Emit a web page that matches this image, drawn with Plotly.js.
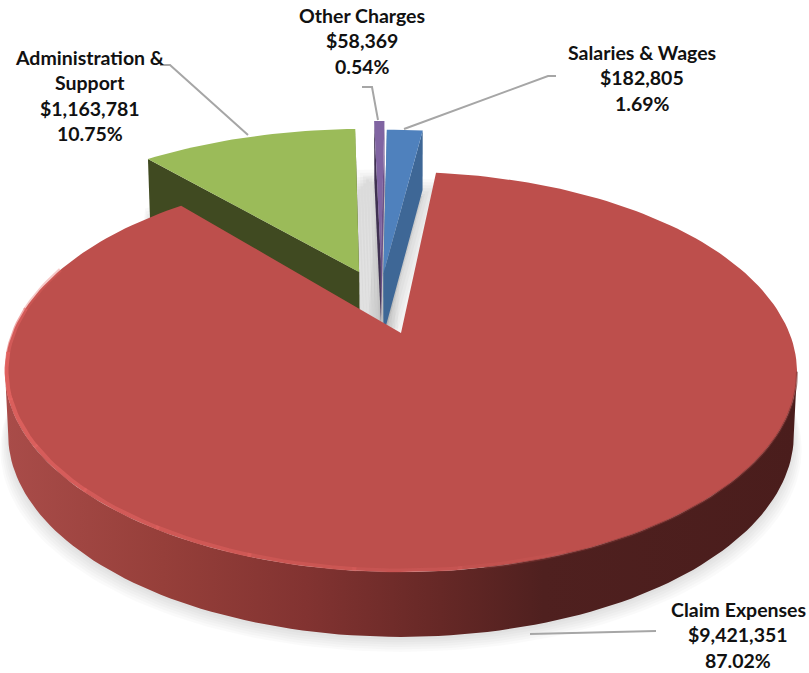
<!DOCTYPE html>
<html>
<head>
<meta charset="utf-8">
<script src="https://cdn.plot.ly/plotly-3.0.1.min.js"></script>
<style>html,body{margin:0;padding:0;background:#fff}#chart{width:809px;height:673px}</style>
</head>
<body>
<div id="chart"></div>
<script>
// ---- data ----
const categories = ['Salaries & Wages', 'Claim Expenses', 'Administration & Support', 'Other Charges'];
const amounts = [182805, 9421351, 1163781, 58369];
const amountLabels = ['$182,805', '$9,421,351', '$1,163,781', '$58,369'];
const percentLabels = ['1.69%', '87.02%', '10.75%', '0.54%'];
const labelLines = [['Salaries & Wages'], ['Claim Expenses'], ['Administration &', 'Support'], ['Other Charges']];

// ---- styling ----
const topColors = ['#4f81bd', '#bd4f4c', '#9bbb59', '#8064a2'];
const wallColors = ['#3e6796', null, '#404a21', '#3f3151'];
const wallColors2 = ['#3e6796', null, '#404a21', '#6b5088'];
const labelCenters = [642, 738, 90, 362];
const labelTops = [52, 609, 57, 15];
const lineStep = 25.6;
const leaders = [
  [[404, 129], [548, 76], [556, 76]],
  [[530, 634], [656, 631]],
  [[248, 135], [170, 65], [160, 65]],
  [[378, 120], [372, 87], [362, 87]]
];

// ---- projection of the tilted disc ----
const X0 = 401, Y0 = 333, A = 388.4, B = 192.4, K = 0.195;
const START = 0.1;
const explode = [[-0.048, -0.33], [0, 0], [-0.115, -0.338], [-0.056, -0.403]];
const widen = [1.1, 1, 1.04, 1];
const rad = d => d * Math.PI / 180;
const wall = s => 50 + 12 * s;
function proj(u, v, low) {
  const s = 1 / (1 - K * v);
  let x = X0 + A * u * s, y = Y0 + B * v * s;
  if (low) { x = X0 + (x - X0) * 0.992; y += wall(s); }
  return [x, y];
}
function rimPt(i, deg, low) {
  const e = explode[i], t = rad(deg);
  return proj(e[0] + widen[i] * Math.sin(t), e[1] - Math.cos(t), low);
}
function arc(i, a0, a1, low) {
  const n = Math.max(2, Math.ceil(Math.abs(a1 - a0) / 1.5)), out = [];
  for (let j = 0; j <= n; j++) out.push(rimPt(i, a0 + (a1 - a0) * j / n, low));
  return out;
}
const total = amounts.reduce((a, b) => a + b, 0);
const spans = [];
let cur = START;
amounts.forEach(v => { const d = v / total * 360; spans.push([cur, cur + d]); cur += d; });

const traces = [];
function poly(pts, opt) {
  const x = pts.map(p => p[0]), y = pts.map(p => p[1]);
  x.push(x[0]); y.push(y[0]);
  traces.push(Object.assign({
    type: 'scatter', mode: 'lines', x, y, fill: 'toself',
    line: { width: 0 }, hoverinfo: 'skip', showlegend: false
  }, opt));
}
function stroke(pts, color, width) {
  traces.push({
    type: 'scatter', mode: 'lines', x: pts.map(p => p[0]), y: pts.map(p => p[1]),
    line: { color, width }, hoverinfo: 'skip', showlegend: false
  });
}
function facePts(i, low) {
  const e = explode[i];
  return [proj(e[0], e[1], low)].concat(arc(i, spans[i][0], spans[i][1], low));
}

// soft floor shadow of the rear slices (fills the gaps between them)
[0, 1, 2, 3, 4, 5].forEach(l => {
  [2, 3, 0].forEach(i => {
    const pts = facePts(i, true).map(p => [p[0], p[1] + 6]);
    poly(pts, { fillcolor: 'rgba(0,0,0,0.012)', line: { width: 4 + l * 6, color: 'rgba(0,0,0,0.022)' } });
  });
});
// soft floor shadow of the big slice
[0, 1, 2, 3, 4, 5].forEach(l => {
  const pts = facePts(1, true).map(p => [X0 + (p[0] - X0) * (1 + l * 0.004), p[1] + 3 + l * 2.4]);
  poly(pts, { fillcolor: 'rgba(0,0,0,0.021)' });
});

// rear slices: walls then top face
[2, 3, 0].forEach(i => {
  const e = explode[i];
  const ap = proj(e[0], e[1], false), apL = proj(e[0], e[1], true);
  poly([rimPt(i, spans[i][0], false), rimPt(i, spans[i][0], true), apL, ap], { fillcolor: wallColors[i] });
  poly([rimPt(i, spans[i][1], false), rimPt(i, spans[i][1], true), apL, ap], { fillcolor: wallColors2[i] });
  poly(facePts(i, false), { fillcolor: topColors[i] });
});

// big slice: outer wall with horizontal shading, then top face
const wallTop = arc(1, 101, 259, false), wallLow = arc(1, 101, 259, true).reverse();
poly(wallTop.concat(wallLow), {
  fillgradient: {
    type: 'horizontal',
    colorscale: [[0, '#a94c49'], [0.2, '#963f3a'], [0.38, '#823331'], [0.55, '#662826'], [0.68, '#4f201f'], [1, '#4a1d1c']]
  }
});
poly(facePts(1, false), { fillcolor: topColors[1] });

// bevel highlight along the front-left rim
for (let b = 0; b < 10; b++) {
  const a0 = 290 - b * 13, a1 = a0 - 13.5;
  const alpha = b < 2 ? 0.35 + b * 0.2 : Math.max(0, 0.85 - (b - 2) * 0.1);
  stroke(arc(1, a0, a1, false).map(p => [p[0] + (p[0] < X0 ? 1.5 : -1.5), p[1] - 1.5]), 'rgba(228,100,98,' + alpha + ')', 4);
}
// soft blend on the right rim
stroke(arc(1, 101, 170, false).map(p => [p[0], p[1] + 0.5]), 'rgba(120,50,48,0.55)', 2);

// leader lines
leaders.forEach(l => stroke(l, '#a6a6a6', 2));

// labels, one annotation per text line
const annotations = [];
categories.forEach((c, i) => {
  const lines = labelLines[i].concat([amountLabels[i], percentLabels[i]]);
  lines.forEach((t, j) => annotations.push({
    x: labelCenters[i], y: labelTops[i] + j * lineStep, xref: 'x', yref: 'y',
    text: '<b>' + t.replace('&', '&amp;') + '</b>', showarrow: false,
    xanchor: 'center', yanchor: 'middle',
    font: { family: 'Lato, sans-serif', size: 19.5, color: '#111111' }
  }));
});

const hidden = { visible: false, fixedrange: true };
Plotly.newPlot('chart', traces, {
  width: 809, height: 673,
  margin: { l: 0, r: 0, t: 0, b: 0 },
  paper_bgcolor: '#ffffff', plot_bgcolor: '#ffffff',
  showlegend: false,
  xaxis: Object.assign({ range: [0, 809] }, hidden),
  yaxis: Object.assign({ range: [673, 0] }, hidden),
  annotations
}, { displayModeBar: false, staticPlot: true });
</script>
</body>
</html>
